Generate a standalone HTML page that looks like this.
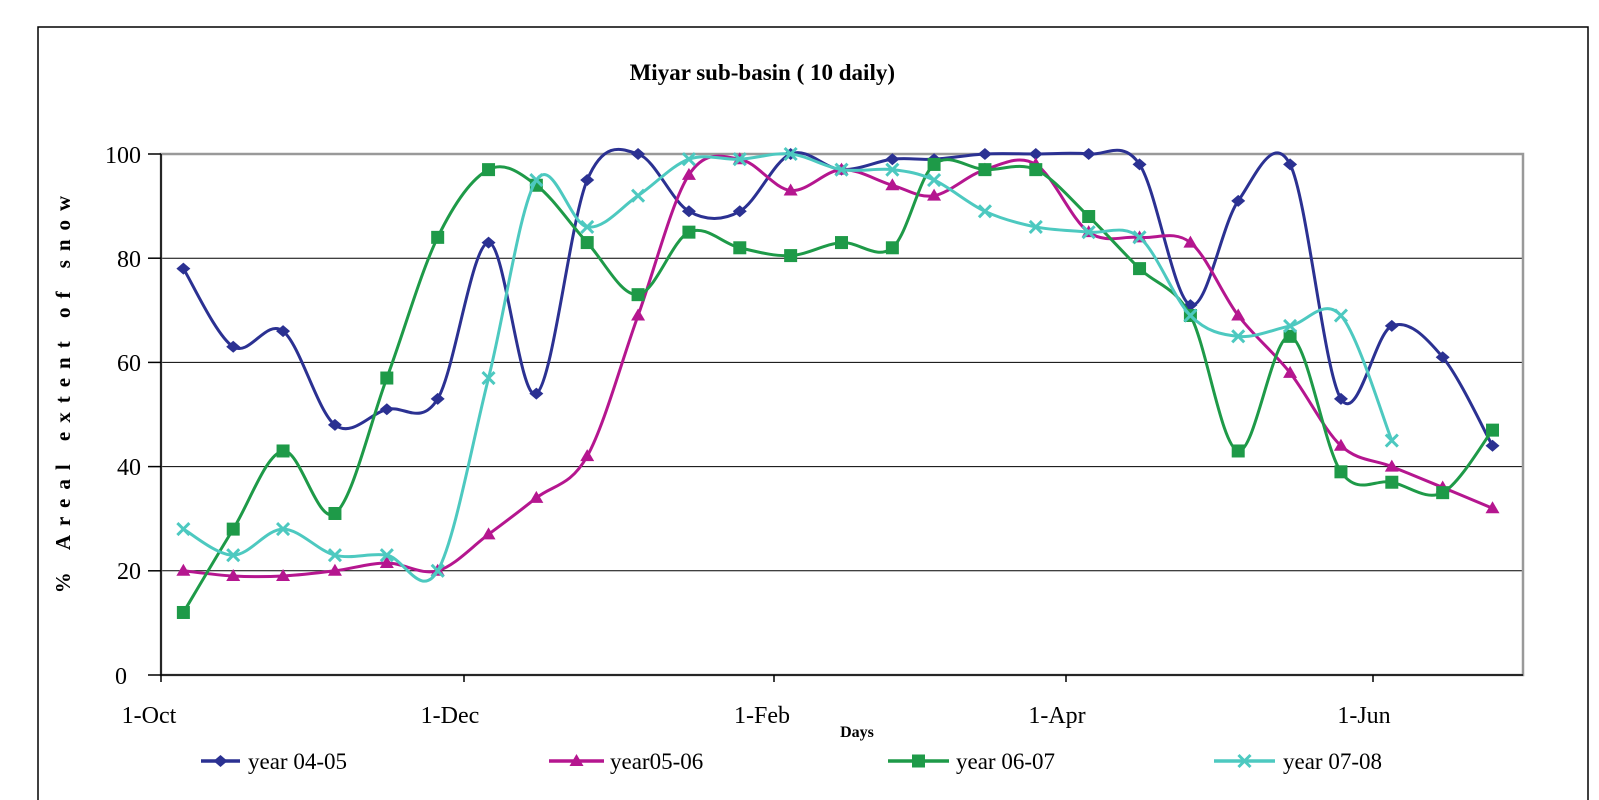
<!DOCTYPE html>
<html><head><meta charset="utf-8"><style>
html,body{margin:0;padding:0;background:#fff;}
svg{display:block;}
text{font-family:"Liberation Serif",serif;}
</style></head><body>
<svg id="s" width="1599" height="800" xmlns="http://www.w3.org/2000/svg">
<rect x="38" y="27" width="1550" height="790" fill="#fff" stroke="#000" stroke-width="1.5"/>
<text x="895" y="80" font-size="23" font-weight="bold" text-anchor="end">Miyar sub-basin ( 10 daily)</text>
<g stroke="#000" stroke-width="1">
<line x1="161" y1="258.2" x2="1523" y2="258.2"/>
<line x1="161" y1="362.4" x2="1523" y2="362.4"/>
<line x1="161" y1="466.6" x2="1523" y2="466.6"/>
<line x1="161" y1="570.8" x2="1523" y2="570.8"/>
</g>
<rect x="161" y="154" width="1362" height="521" fill="none" stroke="#999" stroke-width="2.5"/>
<g stroke="#000" stroke-width="1.5">
<line x1="161" y1="154" x2="161" y2="675"/>
<line x1="148" y1="675" x2="1523" y2="675"/>
<line x1="148" y1="154" x2="161" y2="154"/><line x1="148" y1="258.2" x2="161" y2="258.2"/>
<line x1="148" y1="362.4" x2="161" y2="362.4"/><line x1="148" y1="466.6" x2="161" y2="466.6"/>
<line x1="148" y1="570.8" x2="161" y2="570.8"/>
<line x1="161" y1="675" x2="161" y2="682"/><line x1="464" y1="675" x2="464" y2="682"/>
<line x1="774" y1="675" x2="774" y2="682"/><line x1="1066" y1="675" x2="1066" y2="682"/>
<line x1="1373" y1="675" x2="1373" y2="682"/>
</g>
<g font-size="24" text-anchor="end">
<text x="141" y="163">100</text><text x="141" y="267">80</text><text x="141" y="371">60</text>
<text x="141" y="475">40</text><text x="141" y="579">20</text><text x="127" y="684">0</text>
</g>
<g font-size="24" text-anchor="middle">
<text x="149" y="723">1-Oct</text><text x="450" y="723">1-Dec</text><text x="762" y="723">1-Feb</text>
<text x="1057" y="723">1-Apr</text><text x="1364" y="723">1-Jun</text>
</g>
<text x="857" y="737" font-size="16" font-weight="bold" text-anchor="middle">Days</text>
<text transform="translate(70,390) rotate(-90)" font-size="21" font-weight="bold" text-anchor="middle" letter-spacing="9">% Areal extent of snow</text>
<g id="series"></g>
<g font-size="23">
<text x="248" y="769">year 04-05</text>
<text x="610" y="769">year05-06</text>
<text x="956" y="769">year 06-07</text>
<text x="1283" y="769">year 07-08</text>
</g>
</svg>
<script>
var X0=[180,229,278,329,380,430,480,527,577,627,677,727,777,827,877,918,968,1018,1070,1120,1170,1217,1268,1318,1368,1418,1467];
var X=X0.map(function(x){return 161+(x-158)*1.0172;});
function Y(v){return 675-v*5.21;}
var S=[
{c:"#2b3192",m:"d",v:[78,63,66,48,51,53,83,54,95,100,89,89,100,97,99,99,100,100,100,98,71,91,98,53,67,61,44],lx:[201,240]},
{c:"#b5168f",m:"t",v:[20,19,19,20,21.5,20,27,34,42,69,96,99,93,97,94,92,97,98,85,84,83,69,58,44,40,36,32],lx:[549,604]},
{c:"#1e9a48",m:"s",v:[12,28,43,31,57,84,97,94,83,73,85,82,80.5,83,82,98,97,97,88,78,69,43,65,39,37,35,47],lx:[888,949]},
{c:"#4dc9c0",m:"x",v:[28,23,28,23,23,20,57,95,86,92,99,99,100,97,97,95,89,86,85,84,69,65,67,69,45],lx:[1214,1275]}
];
var g=document.getElementById("series"),h="";
function mk(m,x,y,c){
 if(m=="d")return '<polygon points="'+(x-7)+','+y+' '+x+','+(y-6)+' '+(x+7)+','+y+' '+x+','+(y+6)+'" fill="'+c+'"/>';
 if(m=="t")return '<polygon points="'+(x-7)+','+(y+5)+' '+x+','+(y-7)+' '+(x+7)+','+(y+5)+'" fill="'+c+'"/>';
 if(m=="s")return '<rect x="'+(x-6.5)+'" y="'+(y-6.5)+'" width="13" height="13" fill="'+c+'"/>';
 return '<path d="M'+(x-6)+' '+(y-6)+'L'+(x+6)+' '+(y+6)+'M'+(x+6)+' '+(y-6)+'L'+(x-6)+' '+(y+6)+'" stroke="'+c+'" stroke-width="3"/>';
}
S.forEach(function(s){
 var p=s.v.map(function(v,i){return [X[i],Y(v)];});
 var d="M"+p[0][0]+" "+p[0][1];
 for(var i=0;i<p.length-1;i++){
  var p0=p[Math.max(i-1,0)],p1=p[i],p2=p[i+1],p3=p[Math.min(i+2,p.length-1)],t=0.5/3;
  d+="C"+(p1[0]+(p2[0]-p0[0])*t)+" "+(p1[1]+(p2[1]-p0[1])*t)+" "+(p2[0]-(p3[0]-p1[0])*t)+" "+(p2[1]-(p3[1]-p1[1])*t)+" "+p2[0]+" "+p2[1];
 }
 h+='<path d="'+d+'" fill="none" stroke="'+s.c+'" stroke-width="3"/>';
 p.forEach(function(q){h+=mk(s.m,q[0],q[1],s.c);});
 h+='<line x1="'+s.lx[0]+'" y1="761" x2="'+s.lx[1]+'" y2="761" stroke="'+s.c+'" stroke-width="3.5"/>';
 h+=mk(s.m,(s.lx[0]+s.lx[1])/2,761,s.c);
});
g.innerHTML=h;
</script>
</body></html>
